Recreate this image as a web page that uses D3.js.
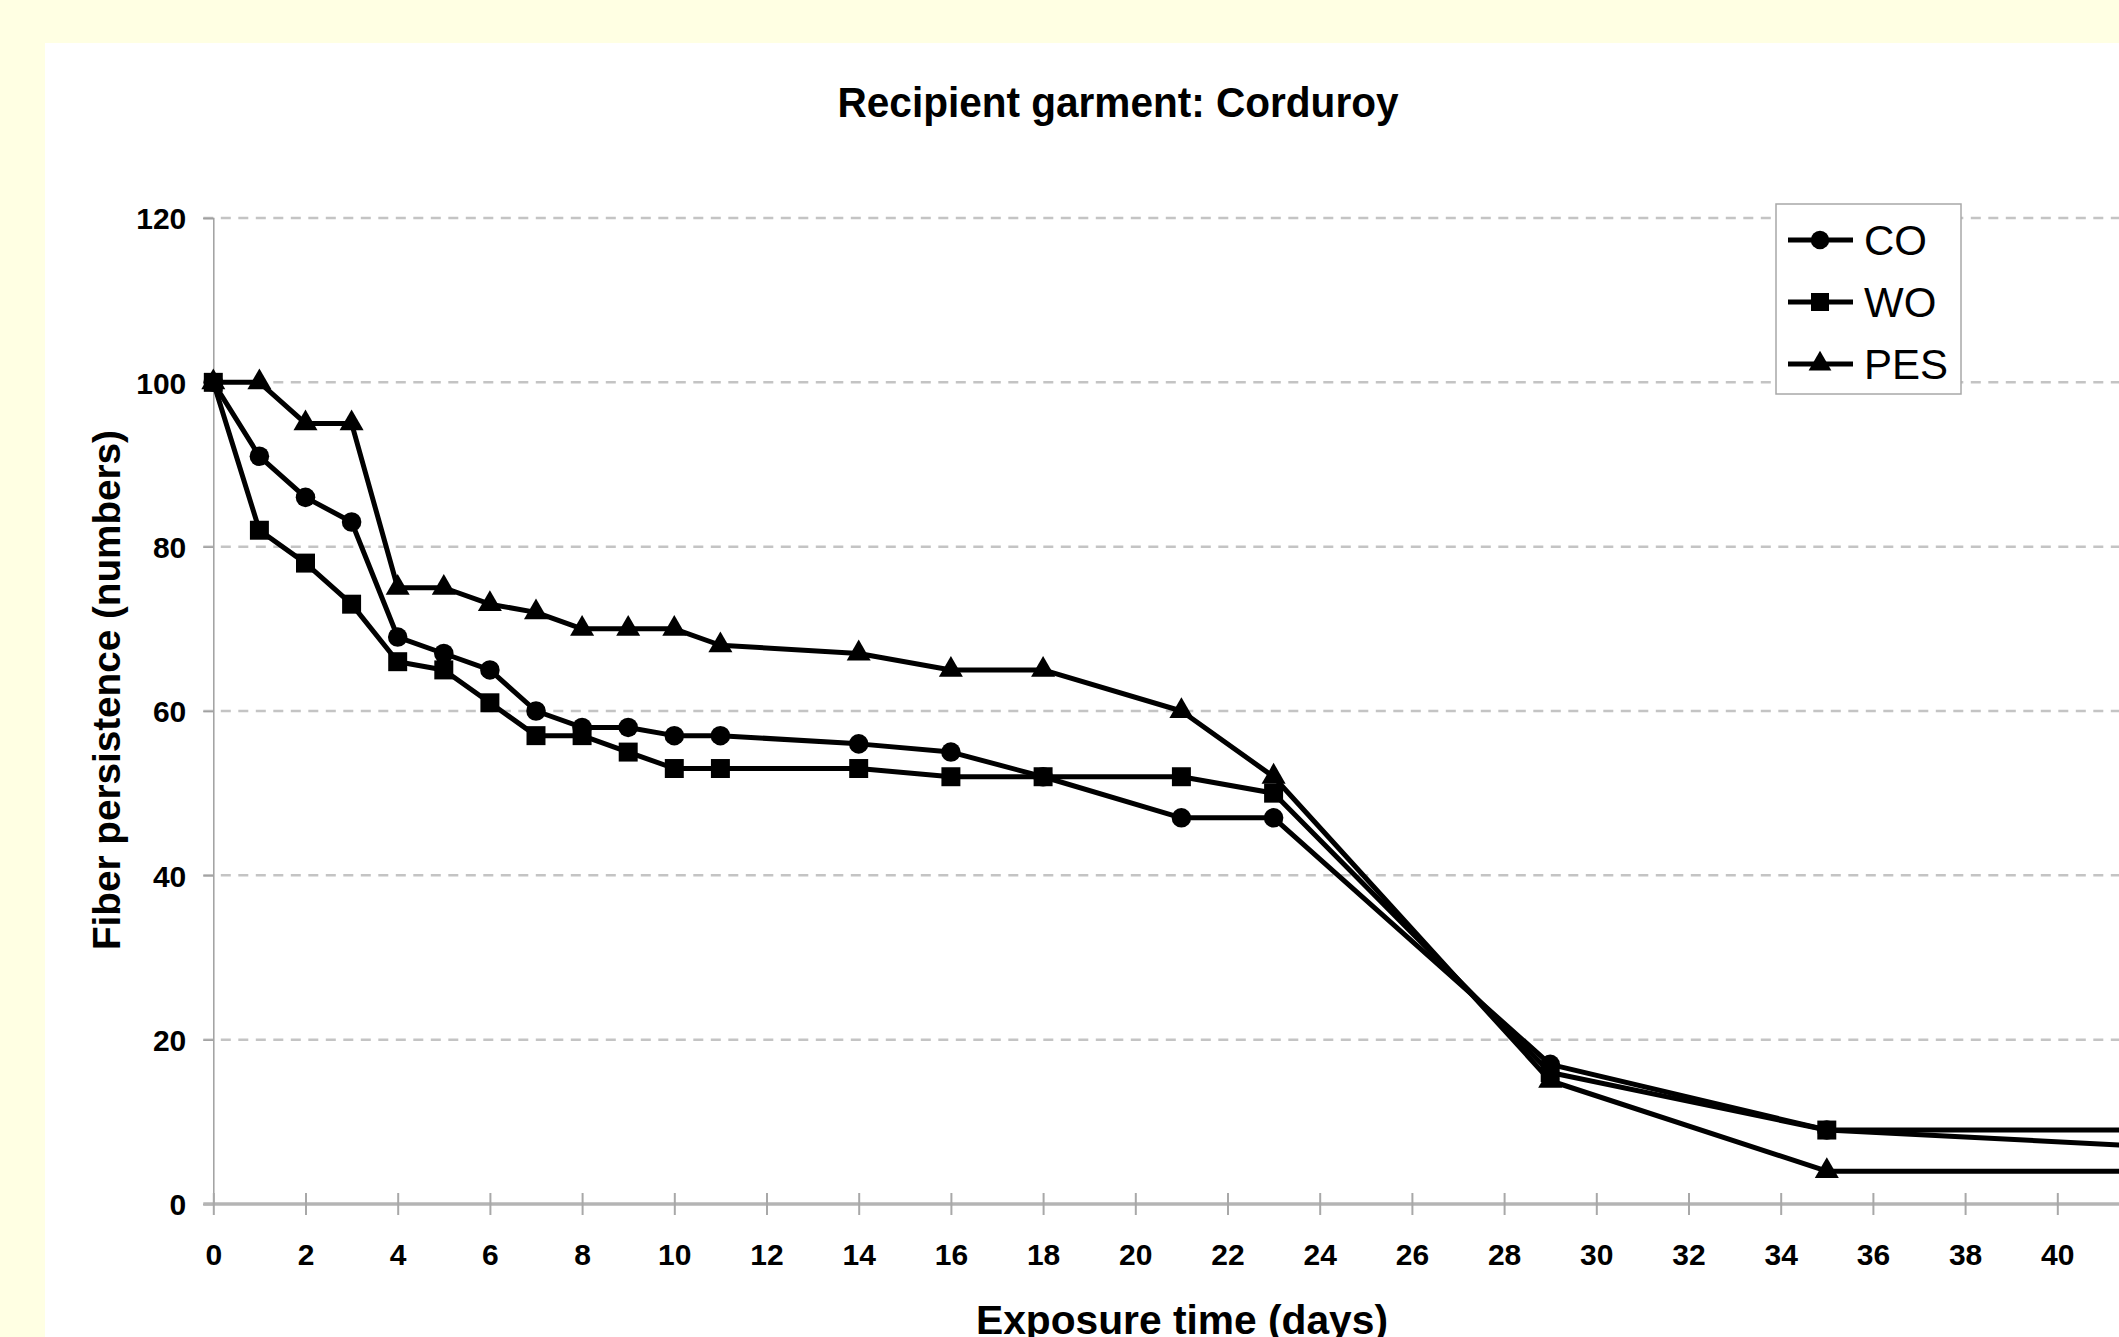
<!DOCTYPE html>
<html>
<head>
<meta charset="utf-8">
<script src="https://cdn.jsdelivr.net/npm/d3@7"></script>
<style>
  body { margin: 0; background: #ffffe3; overflow: hidden; }
  svg { display: block; font-family: "Liberation Sans", Arial, sans-serif; }
</style>
</head>
<body>
<svg id="chart"></svg>
<script>
// exposure time (days) and fiber counts per donor fibre type
var days = [0, 1, 2, 3, 4, 5, 6, 7, 8, 9, 10, 11, 14, 16, 18, 21, 23, 29, 35, 42];
var co = [100, 91, 86, 83, 69, 67, 65, 60, 58, 58, 57, 57, 56, 55, 52, 47, 47, 17, 9, 7];
var wo = [100, 82, 78, 73, 66, 65, 61, 57, 57, 55, 53, 53, 53, 52, 52, 52, 50, 16, 9, 9];
var pes = [100, 100, 95, 95, 75, 75, 73, 72, 70, 70, 70, 68, 67, 65, 65, 60, 52, 15, 4, 4];
var seriesNames = ["CO", "WO", "PES"];
var yTicks = [0, 20, 40, 60, 80, 100, 120];
var xTicks = d3.range(0, 42, 2);

var W = 2119, H = 1337;
var svg = d3.select("#chart").attr("width", W).attr("height", H);

// white chart panel on the pale yellow slide
svg.append("rect")
  .attr("x", 45).attr("y", 43)
  .attr("width", W - 45).attr("height", H - 43)
  .attr("fill", "#ffffff");

var x = d3.scaleLinear().domain([0, 42]).range([213.3, 213.3 + 46.1 * 42]);
var y = d3.scaleLinear().domain([0, 120]).range([1204, 218]);

// gridlines
svg.append("g")
  .selectAll("line")
  .data(yTicks.filter(function (d) { return d > 0; }))
  .join("line")
  .attr("x1", x(0) - 10).attr("x2", W)
  .attr("y1", function (d) { return y(d); })
  .attr("y2", function (d) { return y(d); })
  .attr("stroke", "#c4c4c4")
  .attr("stroke-width", 2.5)
  .attr("stroke-dasharray", "10,7.5");

// Y axis
var yAxis = svg.append("g")
  .attr("transform", "translate(" + x(0) + ",0)")
  .call(d3.axisLeft(y).tickValues(yTicks).tickSize(10).tickPadding(17));
yAxis.select(".domain").attr("stroke", "#a0a0a0").attr("stroke-width", 1.5);
yAxis.selectAll(".tick line").attr("stroke", "#a0a0a0").attr("stroke-width", 1.5);
yAxis.selectAll(".tick text")
  .attr("fill", "#000")
  .style("font-size", "30px")
  .style("font-weight", "bold")
  .attr("dy", "0.36em");

// X axis
var xAxis = svg.append("g")
  .attr("transform", "translate(0," + y(0) + ")")
  .call(d3.axisBottom(x).tickValues(xTicks).tickSize(11).tickPadding(28));
xAxis.select(".domain").remove();
xAxis.insert("line", ":first-child")
  .attr("x1", x(0) - 10).attr("x2", W)
  .attr("y1", 0).attr("y2", 0)
  .attr("stroke", "#b4b4b4")
  .attr("stroke-width", 3.5);
xAxis.selectAll(".tick line")
  .attr("y1", -11)
  .attr("stroke", "#a8a8a8")
  .attr("stroke-width", 2);
xAxis.selectAll(".tick text")
  .attr("fill", "#000")
  .attr("y", 61)
  .attr("dy", 0)
  .style("font-size", "30px")
  .style("font-weight", "bold");

// series
var series = [
  { name: "CO", values: co, shape: d3.symbolCircle, size: 300 },
  { name: "WO", values: wo, shape: d3.symbolSquare, size: 360 },
  { name: "PES", values: pes, shape: d3.symbolTriangle, size: 250 }
];

var line = d3.line()
  .x(function (d) { return x(d[0]); })
  .y(function (d) { return y(d[1]); });

series.forEach(function (s) {
  var pts = days.map(function (d, i) { return [d, s.values[i]]; });
  svg.append("path")
    .datum(pts)
    .attr("fill", "none")
    .attr("stroke", "#000")
    .attr("stroke-width", 5)
    .attr("stroke-linejoin", "round")
    .attr("d", line);
  svg.append("g")
    .selectAll("path")
    .data(pts)
    .join("path")
    .attr("transform", function (d) { return "translate(" + x(d[0]) + "," + y(d[1]) + ")"; })
    .attr("d", d3.symbol().type(s.shape).size(s.size))
    .attr("fill", "#000");
});

// legend
var legend = svg.append("g");
legend.append("rect")
  .attr("x", 1776).attr("y", 204)
  .attr("width", 185).attr("height", 190)
  .attr("fill", "#fff")
  .attr("stroke", "#a8a8a8")
  .attr("stroke-width", 1.5);

series.forEach(function (s, i) {
  var ly = 240 + i * 62;
  legend.append("line")
    .attr("x1", 1788).attr("x2", 1853)
    .attr("y1", ly).attr("y2", ly)
    .attr("stroke", "#000").attr("stroke-width", 5);
  legend.append("path")
    .attr("transform", "translate(1820," + ly + ")")
    .attr("d", d3.symbol().type(s.shape).size(s.size * 0.9))
    .attr("fill", "#000");
  legend.append("text")
    .attr("x", 1864).attr("y", ly + 15)
    .style("font-size", "42px")
    .text(seriesNames[i]);
});

// titles
svg.append("text")
  .attr("x", 1118).attr("y", 117)
  .attr("text-anchor", "middle")
  .attr("textLength", 561)
  .attr("lengthAdjust", "spacingAndGlyphs")
  .style("font-size", "42px")
  .style("font-weight", "bold")
  .text("Recipient garment: Corduroy");

svg.append("text")
  .attr("transform", "translate(120,690) rotate(-90)")
  .attr("text-anchor", "middle")
  .attr("textLength", 520)
  .attr("lengthAdjust", "spacingAndGlyphs")
  .style("font-size", "38px")
  .style("font-weight", "bold")
  .text("Fiber persistence (numbers)");

svg.append("text")
  .attr("x", 1182).attr("y", 1334)
  .attr("text-anchor", "middle")
  .attr("textLength", 412)
  .attr("lengthAdjust", "spacingAndGlyphs")
  .style("font-size", "40px")
  .style("font-weight", "bold")
  .text("Exposure time (days)");
</script>
</body>
</html>
